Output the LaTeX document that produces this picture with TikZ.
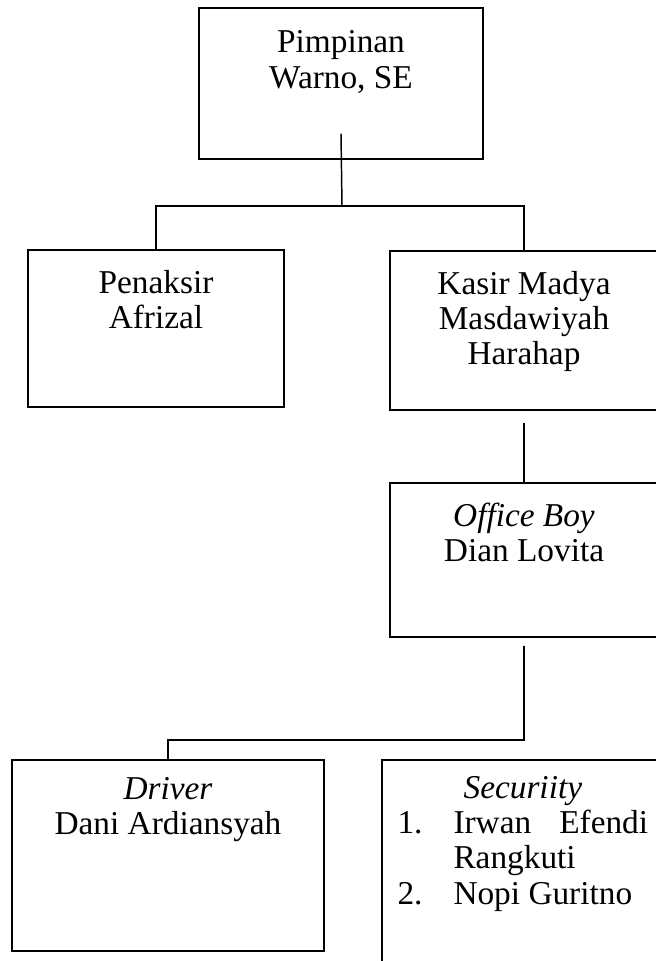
\documentclass[tikz,border=0pt]{standalone}
\usepackage{fontspec}
\setmainfont{Liberation Serif}
\tikzset{orgbox/.style={draw, rectangle, inner sep=0pt},
         boxtext/.style={align=center, anchor=north, inner sep=0pt}}
\begin{document}
\begin{tikzpicture}[x=0.75pt, y=-0.75pt, line width=1.1pt]
\tikzstyle{every node}=[font=\fontsize{25}{26.5}\selectfont]
\useasboundingbox (0,0) rectangle (656,961);
% pimpinan
  \node[orgbox, minimum width=213pt, minimum height=113.25pt] (pimp) at (341,83.5) {};
  \node[boxtext] (pimp-t) at ([yshift=-17pt]pimp.north) {Pimpinan\\Warno, SE};
% penaksir
  \node[orgbox, minimum width=192pt, minimum height=117.75pt] (penaksir) at (156,328.5) {};
  \node[boxtext] (penaksir-t) at ([yshift=-15pt]penaksir.north) {Penaksir\\Afrizal};
% kasir madya
  \node[orgbox, minimum width=201pt, minimum height=119.25pt] (kasir) at (524,330.5) {};
  \node[boxtext] (kasir-t) at ([yshift=-15pt]kasir.north) {Kasir Madya\\Masdawiyah\\Harahap};
% office boy
  \node[orgbox, minimum width=201pt, minimum height=115.5pt] (office) at (524,560) {};
  \node[boxtext] (office-t) at ([yshift=-15pt]office.north) {\textit{Office Boy}\\Dian Lovita};
% driver
  \node[orgbox, minimum width=234pt, minimum height=143.25pt] (driver) at (168,855.5) {};
  \node[boxtext] (driver-t) at ([yshift=-13pt]driver.north) {\textit{Driver}\\Dani Ardiansyah};
% securiity
  \node[orgbox, minimum width=211.5pt, minimum height=189pt] (secur) at (523,886) {};
  \node[boxtext] (secur-t) at ([xshift=3pt,yshift=-10pt]secur.north)%
{%
  \begin{tabular}{@{}p{42pt}@{}p{146pt}@{}}
    \multicolumn{2}{c}{\itshape Securiity} \\
    1. & \makebox[146pt][s]{Irwan Efendi} \\
       & Rangkuti \\
    2. & Nopi Guritno
  \end{tabular}
};
%%%%%%%%%%%%%%%%
\coordinate (bus) at (342,206);
\coordinate (turn) at (524,740);
\draw ([yshift=19.5pt]pimp.south) -- (bus);
\draw (penaksir.north) -- (penaksir.north |- bus) -- (kasir.north |- bus) -- (kasir.north);
\draw ([yshift=-9pt]kasir.south) -- (office.north);
\draw ([yshift=-6pt]office.south) -- (turn) -- (turn -| driver.north) -- (driver.north);
\end{tikzpicture}
\end{document}
